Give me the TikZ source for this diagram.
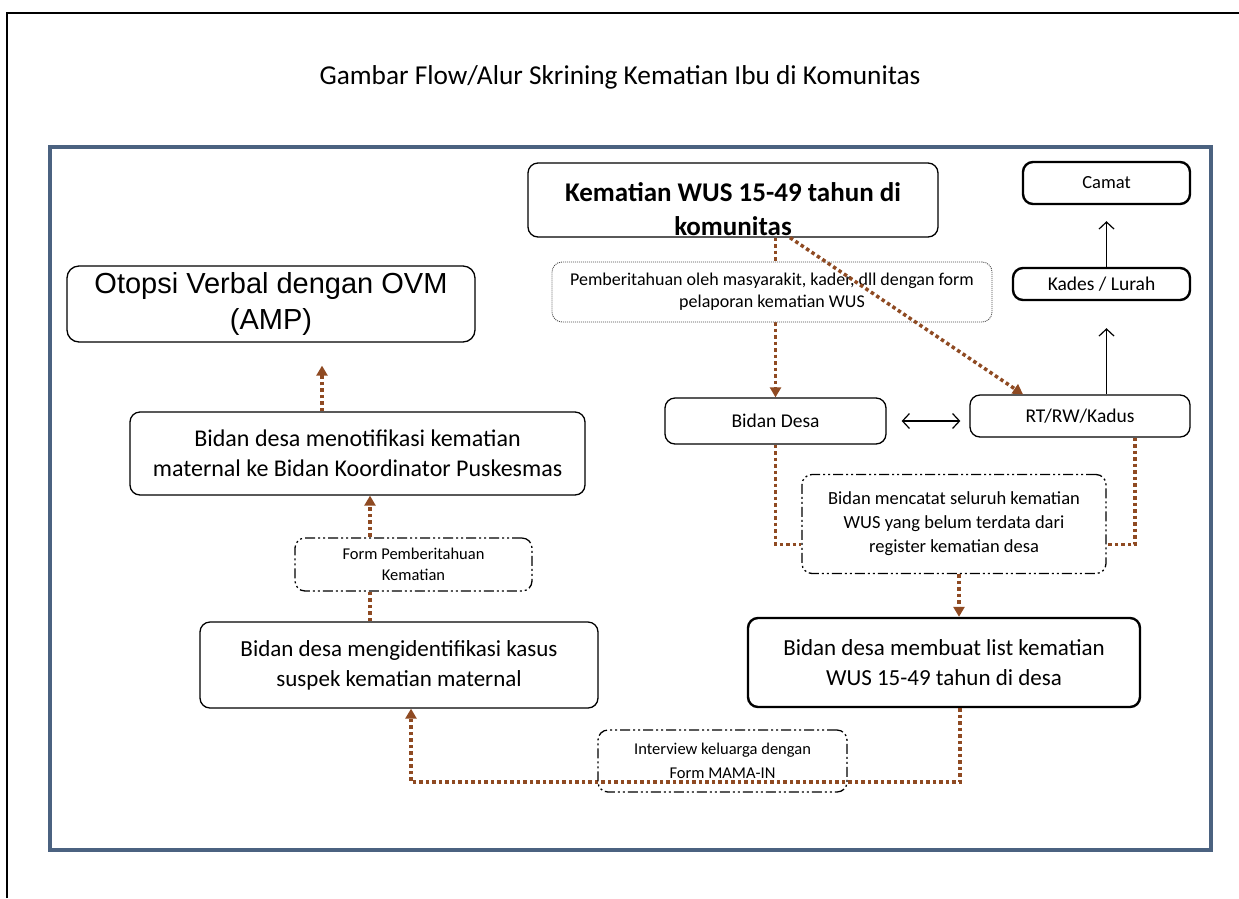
\documentclass[tikz,border=0pt]{standalone}
\usepackage{fontspec}
\setmainfont{Carlito}
\newfontfamily\arialfont{Liberation Sans}
\usetikzlibrary{arrows.meta}
\definecolor{framec}{RGB}{75,98,128}
\definecolor{dotc}{RGB}{143,74,34}
\tikzset{
  box/.style={draw, rounded corners=10pt, line width=1.3pt, fill=white, align=center, inner sep=0pt},
  thickbox/.style={box, line width=2.4pt},
  notebox/.style={box, draw=black!70, line width=0.9pt, dash pattern=on 1pt off 1pt},
  dashdotbox/.style={box, dash pattern=on 10pt off 3pt on 2pt off 3pt on 2pt off 3pt},
  flow/.style={draw=dotc, line width=3.5pt, dash pattern=on 3.5pt off 3pt},
  flowtip/.style={-{Triangle[length=10pt,width=11pt]}},
  blackarr/.style={-{Straight Barb[length=7pt,width=15pt]}, line width=1.2pt},
  dblarr/.style={{Straight Barb[length=7pt,width=15pt]}-{Straight Barb[length=7pt,width=15pt]}, line width=1.2pt}
}
\begin{document}
\begin{tikzpicture}[x=1pt,y=-1pt]
  \useasboundingbox (0,0) rectangle (1239,898);
  \draw[line width=2.5pt] (7,898) -- (7,13) -- (1239,13);
  \node[font=\fontsize{27.3}{32}\selectfont] (title) at (620,77) {Gambar Flow/Alur Skrining Kematian Ibu di Komunitas};
  \draw[framec, line width=3.8pt] (50,147) rectangle (1211,850);

  \node[box, minimum width=410pt, minimum height=74pt] (kwus) at (733,200) {};
  \node[font=\bfseries\fontsize{27}{34}\selectfont, align=center] (kwustxt) at (733,209) {Kematian WUS 15-49 tahun di\\komunitas};
  \node[box, minimum width=221pt, minimum height=46pt, font=\fontsize{19.5}{23}\selectfont] (bidandesa) at (775.5,421) {Bidan Desa};
  \node[box, minimum width=220pt, minimum height=42pt, font=\fontsize{19.5}{23}\selectfont] (rtrw) at (1080,416) {RT/RW/Kadus};
  \node[thickbox, minimum width=177pt, minimum height=32pt, font=\fontsize{19.5}{23}\selectfont] (kades) at (1101.5,284) {Kades / Lurah};
  \node[thickbox, minimum width=167pt, minimum height=42pt, font=\fontsize{18.5}{22}\selectfont] (camat) at (1106.5,183) {Camat};

  \draw[flow, flowtip] (bidandesa.north |- kwus.south) -- (bidandesa.north);
  \node[notebox, minimum width=440pt, minimum height=60pt, font=\fontsize{18}{22}\selectfont] (lapor) at (772,292) {Pemberitahuan oleh masyarakit, kader, dll dengan form\\pelaporan kematian WUS};
  \draw[flow, flowtip] ([xshift=57pt]kwus.south) -- ([xshift=-57pt]rtrw.north);

  \draw[dblarr, shorten <=15pt, shorten >=9pt] (bidandesa.east) -- (bidandesa.east -| rtrw.west);
  \draw[blackarr, shorten >=27pt] ([xshift=5pt]kades.south |- rtrw.north) -- ([xshift=5pt]kades.south);
  \draw[blackarr, shorten >=16pt] ([xshift=5pt]kades.north) -- ([xshift=5pt]kades.north |- camat.south);

  \node[dashdotbox, minimum width=304pt, minimum height=99pt, font=\fontsize{18.5}{24}\selectfont] (mencatat) at (954,524) {Bidan mencatat seluruh kematian\\WUS yang belum terdata dari\\register kematian desa};
  \draw[flow] (bidandesa.south) |- ([yshift=-20.5pt]mencatat.west);
  \draw[flow] ([xshift=55pt]rtrw.south) |- ([yshift=-20.5pt]mencatat.east);

  \node[thickbox, minimum width=392pt, minimum height=89pt, font=\fontsize{23}{30}\selectfont] (list) at (944,662.5) {Bidan desa membuat list kematian\\WUS 15-49 tahun di desa};
  \draw[flow, flowtip] ([xshift=5pt]mencatat.south) -- ([xshift=5pt]mencatat.south |- list.north);

  \node[box, minimum width=398pt, minimum height=86pt, font=\fontsize{23}{30}\selectfont] (mengid) at (399,665) {Bidan desa mengidentifikasi kasus\\suspek kematian maternal};
  \coordinate (loop) at (0,782);
  \draw[flow, flowtip] ([xshift=16pt]list.south) -- ([xshift=16pt]list.south |- loop) -| ([xshift=12pt]mengid.south);
  \node[dashdotbox, fill=none, minimum width=249pt, minimum height=62pt, font=\fontsize{16.5}{24}\selectfont] (interview) at (722.5,761) {Interview keluarga dengan\\Form MAMA-IN};

  \node[box, minimum width=455pt, minimum height=83pt, font=\fontsize{24}{30}\selectfont] (menotif) at (357.5,453.5) {Bidan desa menotifikasi kematian\\maternal ke Bidan Koordinator Puskesmas};
  \draw[flow, flowtip] ([xshift=-29pt]mengid.north) -- ([xshift=-29pt]mengid.north |- menotif.south);
  \node[dashdotbox, minimum width=237pt, minimum height=53pt, font=\fontsize{16.5}{21}\selectfont] (formpb) at (413.5,564.5) {Form Pemberitahuan\\Kematian};

  \node[box, rounded corners=12pt, minimum width=408pt, minimum height=76pt, font=\arialfont\fontsize{29}{36}\selectfont] (otopsi) at (271,304) {Otopsi Verbal dengan OVM\\(AMP)};
  \draw[flow, flowtip, shorten >=23pt] ([xshift=-35.5pt]menotif.north) -- ([xshift=-35.5pt]menotif.north |- otopsi.south);
\end{tikzpicture}
\end{document}
